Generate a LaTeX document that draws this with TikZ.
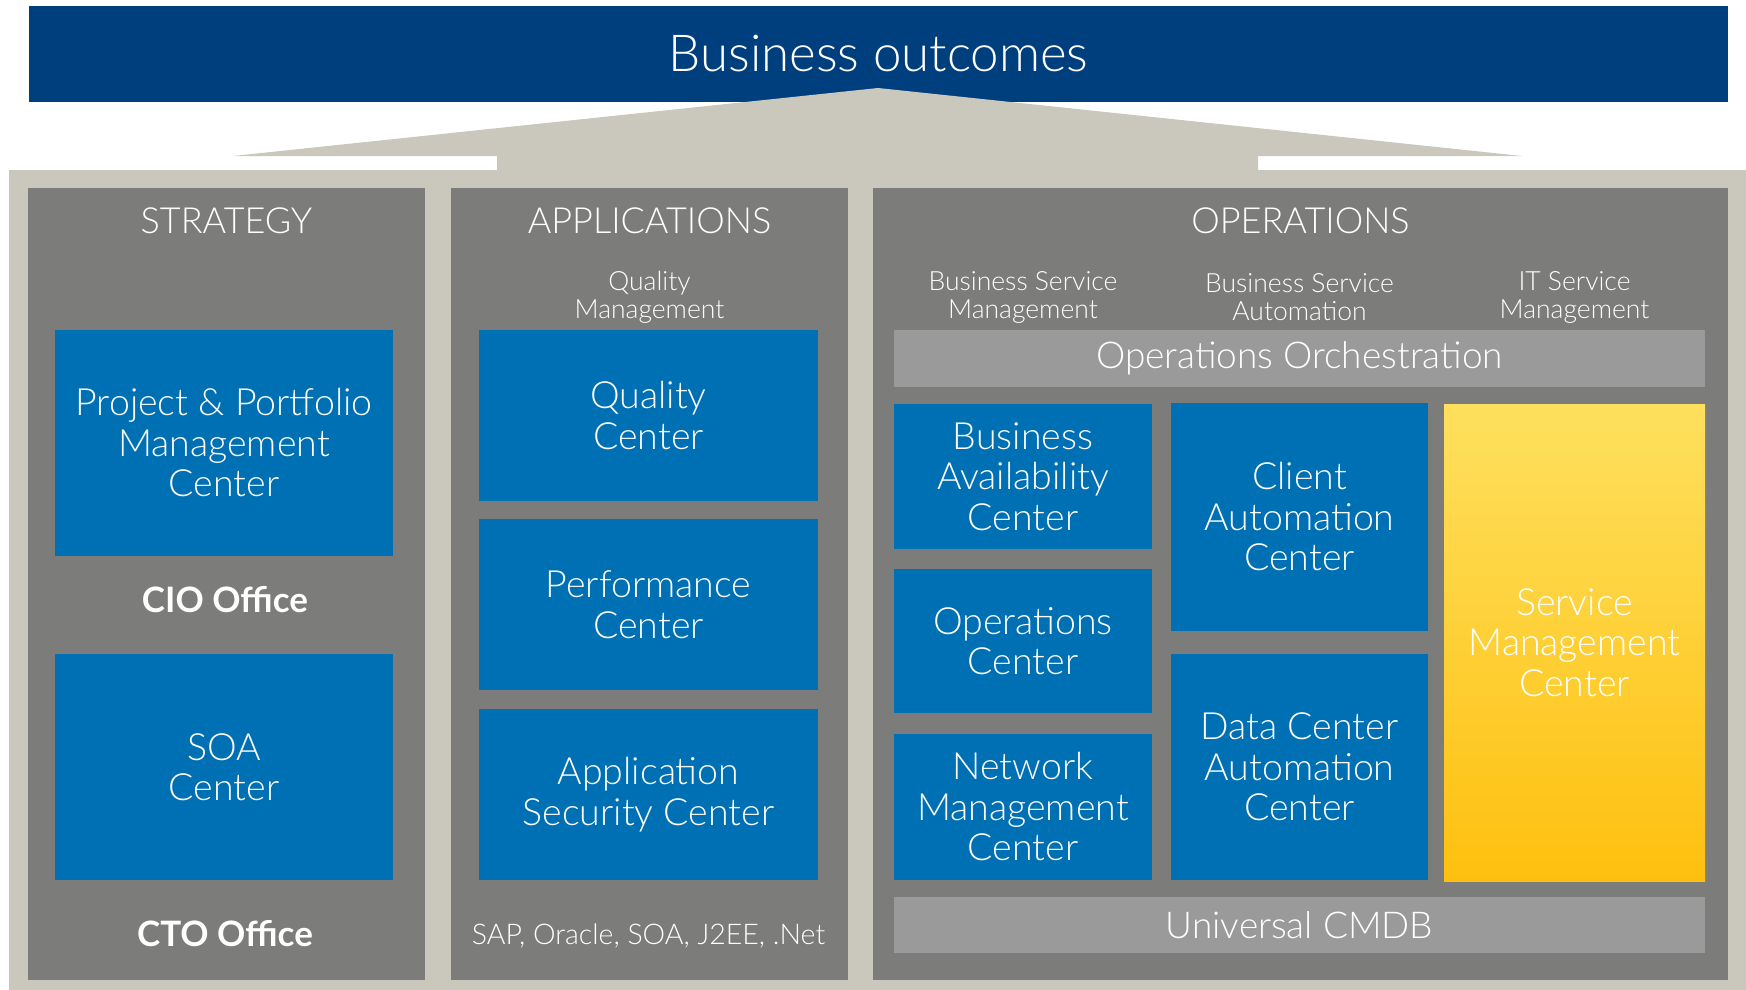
\documentclass[tikz,border=0pt]{standalone}
\usepackage{fontspec}
\IfFontExistsTF{Lato Light}{\setmainfont{Lato Light}[BoldFont={Lato Bold}]}{\setmainfont{Lato}}
\usetikzlibrary{shadows}
\definecolor{hpnavy}{HTML}{003F7E}
\definecolor{hpblue}{HTML}{0070B4}
\definecolor{panelgray}{HTML}{7C7C7A}
\definecolor{bargray}{HTML}{9A9A9A}
\definecolor{roofbeige}{HTML}{CAC8BC}
\definecolor{smtop}{HTML}{FEE05E}
\definecolor{smbottom}{HTML}{FEC00F}
\begin{document}
\begin{tikzpicture}[x=1pt,y=-1pt,
    every node/.style={text=white,inner sep=0pt,align=center},
    panel/.style={fill=panelgray},
    tile/.style={fill=hpblue,font=\fontsize{37.5}{40.5}\selectfont},
    strip/.style={fill=bargray,font=\fontsize{37}{40}\selectfont},
    heading/.style={anchor=base,font=\fontsize{36}{40}\selectfont},
    subheading/.style={font=\fontsize{26.5}{28}\selectfont},
    office/.style={anchor=base,font=\fontsize{35}{40}\bfseries}]
  \useasboundingbox (0,0) rectangle (1746,990);
  \node[fill=hpnavy,minimum width=1699pt,minimum height=96pt,
    font=\fontsize{51}{56}\selectfont] (outcomes) at (878.5,54) {Business outcomes};
  \fill[roofbeige] (9,170) -- (497,170) -- (497,156) -- (233,156) -- (878,88)
    -- (1522,156) -- (1258,156) -- (1258,170) -- (1746,170) -- (1746,990)
    -- (9,990) -- cycle;

  \node[panel,minimum width=397pt,minimum height=792pt] (strategy) at (226.5,584) {};
  \node[panel,minimum width=397pt,minimum height=792pt] (applications) at (649.5,584) {};
  \node[panel,minimum width=855pt,minimum height=792pt] (operations) at (1300.5,584) {};

  \node[heading] (hstrat) at (226.5,233) {STRATEGY};
  \node[heading] (happ) at (649.5,233) {APPLICATIONS};
  \node[heading] (hops) at (1300.5,233) {OPERATIONS};

  \node[subheading] (qm) at (649.5,297) {Quality\\Management};
  \node[subheading] (bsm) at (1023,297) {Business Service\\Management};
  \node[subheading] (bsa) at (1299.5,297) {Business Service\\Automation};
  \node[subheading] (itsm) at (1574.5,297) {IT Service\\Management};

  \node[tile,minimum width=338pt,minimum height=226pt] (ppm) at (224,443)
    {Project \& Portfolio\\Management\\Center};
  \node[office] (cio) at (225,612) {CIO Office};
  \node[tile,minimum width=338pt,minimum height=226pt] (soa) at (224,767) {SOA\\Center};
  \node[office] (cto) at (225,946) {CTO Office};

  \node[tile,minimum width=339pt,minimum height=171pt] (qc) at (648.5,415.5) {Quality\\Center};
  \node[tile,minimum width=339pt,minimum height=171pt] (pc) at (648.5,604.5) {Performance\\Center};
  \node[tile,minimum width=339pt,minimum height=171pt] (asc) at (648.5,794.5)
    {Application\\Security Center};
  \node[anchor=base,font=\fontsize{28.5}{32}\selectfont] (platforms) at (648.5,944)
    {SAP, Oracle, SOA, J2EE, .Net};

  \node[strip,minimum width=811pt,minimum height=57pt] (oo) at (1299.5,358.5)
    {Operations Orchestration};
  \node[tile,minimum width=258pt,minimum height=145pt] (bac) at (1023,476.5)
    {Business\\Availability\\Center};
  \node[tile,minimum width=258pt,minimum height=144pt] (oc) at (1023,641) {Operations\\Center};
  \node[tile,minimum width=258pt,minimum height=146pt] (nnm) at (1023,807)
    {Network\\Management\\Center};
  \node[tile,minimum width=257pt,minimum height=228pt] (ca) at (1299.5,517)
    {Client\\Automation\\Center};
  \node[tile,minimum width=257pt,minimum height=226pt] (dca) at (1299.5,767)
    {Data Center\\Automation\\Center};
  \node[tile,minimum width=261pt,minimum height=477pt,top color=smtop,bottom color=smbottom,
    drop shadow={shadow xshift=3pt,shadow yshift=-4pt,opacity=0.35}] (sm) at (1574.5,642.5)
    {Service\\Management\\Center};
  \node[strip,minimum width=811pt,minimum height=56pt] (cmdb) at (1299.5,925) {Universal CMDB};
\end{tikzpicture}
\end{document}
